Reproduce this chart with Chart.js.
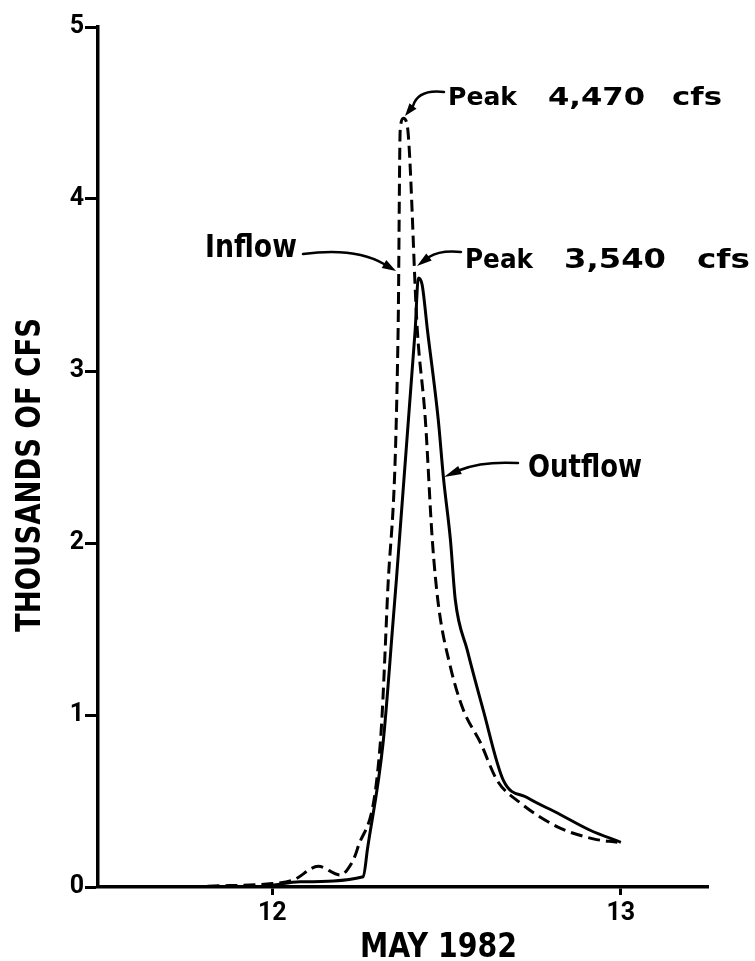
<!DOCTYPE html>
<html>
<head>
<meta charset="utf-8">
<title>Inflow and outflow, May 1982</title>
<script src="https://cdn.jsdelivr.net/npm/chart.js@4.4.1/dist/chart.umd.min.js"></script>
<style>
  html, body { margin: 0; padding: 0; background: #fff; }
  canvas { display: block; }
</style>
</head>
<body>
<canvas id="flowChart" width="755" height="961"></canvas>
<script>
// day of May 1982 (fractional) against thousands of cfs
const inflowDays = [11.814, 12.0, 12.06, 12.132, 12.195, 12.215, 12.244, 12.31, 12.33, 12.361, 12.367, 12.376, 12.387, 12.416, 12.439, 12.459, 12.476, 12.511, 12.548, 12.597, 12.645, 12.711, 12.818, 12.921, 12.99];
const inflowCfs  = [0.005, 0.02, 0.04, 0.12, 0.07, 0.10, 0.22, 0.84, 1.67, 3.24, 4.40, 4.47, 4.43, 3.24, 2.72, 2.02, 1.65, 1.28, 1.03, 0.84, 0.62, 0.49, 0.35, 0.28, 0.26];

const outflowDays = [12.0, 12.08, 12.261, 12.273, 12.318, 12.344, 12.41, 12.419, 12.43, 12.445, 12.476, 12.491, 12.511, 12.525, 12.559, 12.605, 12.663, 12.731, 12.818, 12.912, 13.0];
const outflowCfs  = [0.01, 0.03, 0.06, 0.22, 0.84, 1.48, 3.24, 3.54, 3.50, 3.24, 2.72, 2.38, 2.02, 1.67, 1.38, 1.03, 0.62, 0.52, 0.43, 0.33, 0.26];

const dayTicks = [12, 13];
const cfsTicks = [0, 1, 2, 3, 4, 5];

const toPoints = (xs, ys) => xs.map((x, i) => ({ x: x, y: ys[i] }));

// bold lettering squeezed to a given width
function fitText(ctx, text, x, y, width, cap, angle) {
    const size = cap / 0.73;
    ctx.save();
    ctx.font = 'bold ' + size + 'px "DejaVu Sans"';
    ctx.fillStyle = '#000';
    ctx.textBaseline = 'alphabetic';
    const w = ctx.measureText(text).width;
    ctx.translate(x, y);
    if (angle) ctx.rotate(angle);
    ctx.scale(width / w, 1);
    ctx.fillText(text, 0, 0);
    ctx.restore();
}

// curved leader line ending in a wedge arrowhead
function leader(ctx, x0, y0, cx, cy, x1, y1, tx, ty) {
    ctx.save();
    ctx.strokeStyle = '#000';
    ctx.fillStyle = '#000';
    ctx.lineWidth = 2.5;
    ctx.lineCap = 'round';
    ctx.beginPath();
    ctx.moveTo(x0, y0);
    ctx.quadraticCurveTo(cx, cy, x1, y1);
    ctx.stroke();
    const a = Math.atan2(ty - y1, tx - x1);
    const hw = 4.5;
    ctx.beginPath();
    ctx.moveTo(tx, ty);
    ctx.lineTo(x1 + Math.sin(a) * hw, y1 - Math.cos(a) * hw);
    ctx.lineTo(x1 - Math.sin(a) * hw, y1 + Math.cos(a) * hw);
    ctx.closePath();
    ctx.fill();
    ctx.restore();
}

const labelsPlugin = {
    id: 'flowLabels',
    afterDraw(chart) {
        const ctx = chart.ctx;

        fitText(ctx, 'Peak', 448, 105, 69, 18);
        fitText(ctx, '4,470', 548, 105, 97, 18);
        fitText(ctx, 'cfs', 672, 105, 50, 18);
        leader(ctx, 444, 92, 418, 89, 413, 106, 405, 116);

        fitText(ctx, 'Peak', 465, 268, 68, 20);
        fitText(ctx, '3,540', 564, 268, 102, 20);
        fitText(ctx, 'cfs', 697, 268, 53, 20);
        leader(ctx, 461, 252, 440, 250, 429, 257, 417, 266);

        fitText(ctx, 'Inflow', 205, 257, 92, 23);
        leader(ctx, 303, 254, 355, 247, 384, 264, 396, 271);

        fitText(ctx, 'Outflow', 528, 477, 114, 23);
        leader(ctx, 518, 463, 482, 461, 460, 470, 444, 477);

        fitText(ctx, 'MAY 1982', 360, 957, 157, 25);
        fitText(ctx, 'THOUSANDS OF CFS', 40, 632, 314, 25, -Math.PI / 2);
    }
};

const tickFont = { family: 'Roboto', weight: 'bold', size: 25 };

new Chart(document.getElementById('flowChart'), {
    type: 'line',
    data: {
        datasets: [
            {
                label: 'Inflow',
                data: toPoints(inflowDays, inflowCfs),
                borderColor: '#000',
                borderWidth: 3,
                borderDash: [12, 6],
                pointRadius: 0,
                cubicInterpolationMode: 'monotone',
                fill: false
            },
            {
                label: 'Outflow',
                data: toPoints(outflowDays, outflowCfs),
                borderColor: '#000',
                borderWidth: 3,
                pointRadius: 0,
                cubicInterpolationMode: 'monotone',
                fill: false
            }
        ]
    },
    options: {
        responsive: false,
        animation: false,
        devicePixelRatio: 1,
        layout: { padding: { top: 27, right: 47, left: 0, bottom: 0 } },
        plugins: {
            legend: { display: false },
            tooltip: { enabled: false }
        },
        scales: {
            x: {
                type: 'linear',
                min: 11.5,
                max: 13.25,
                afterBuildTicks: (scale) => { scale.ticks = dayTicks.map(v => ({ value: v })); },
                afterFit: (scale) => { scale.height = 74; },
                border: { display: true, color: '#000', width: 3.5 },
                grid: { drawOnChartArea: false, drawTicks: true, tickLength: 8, tickWidth: 3, tickColor: '#000', color: '#000' },
                ticks: { color: '#000', font: tickFont, padding: 4, maxRotation: 0 }
            },
            y: {
                min: 0,
                max: 5,
                afterBuildTicks: (scale) => { scale.ticks = cfsTicks.map(v => ({ value: v })); },
                afterFit: (scale) => { scale.width = 98; },
                border: { display: true, color: '#000', width: 3.5 },
                grid: { drawOnChartArea: false, drawTicks: true, tickLength: 13, tickWidth: 3, tickColor: '#000', color: '#000' },
                ticks: { color: '#000', font: tickFont, padding: 1 }
            }
        }
    },
    plugins: [labelsPlugin]
});
</script>
</body>
</html>
